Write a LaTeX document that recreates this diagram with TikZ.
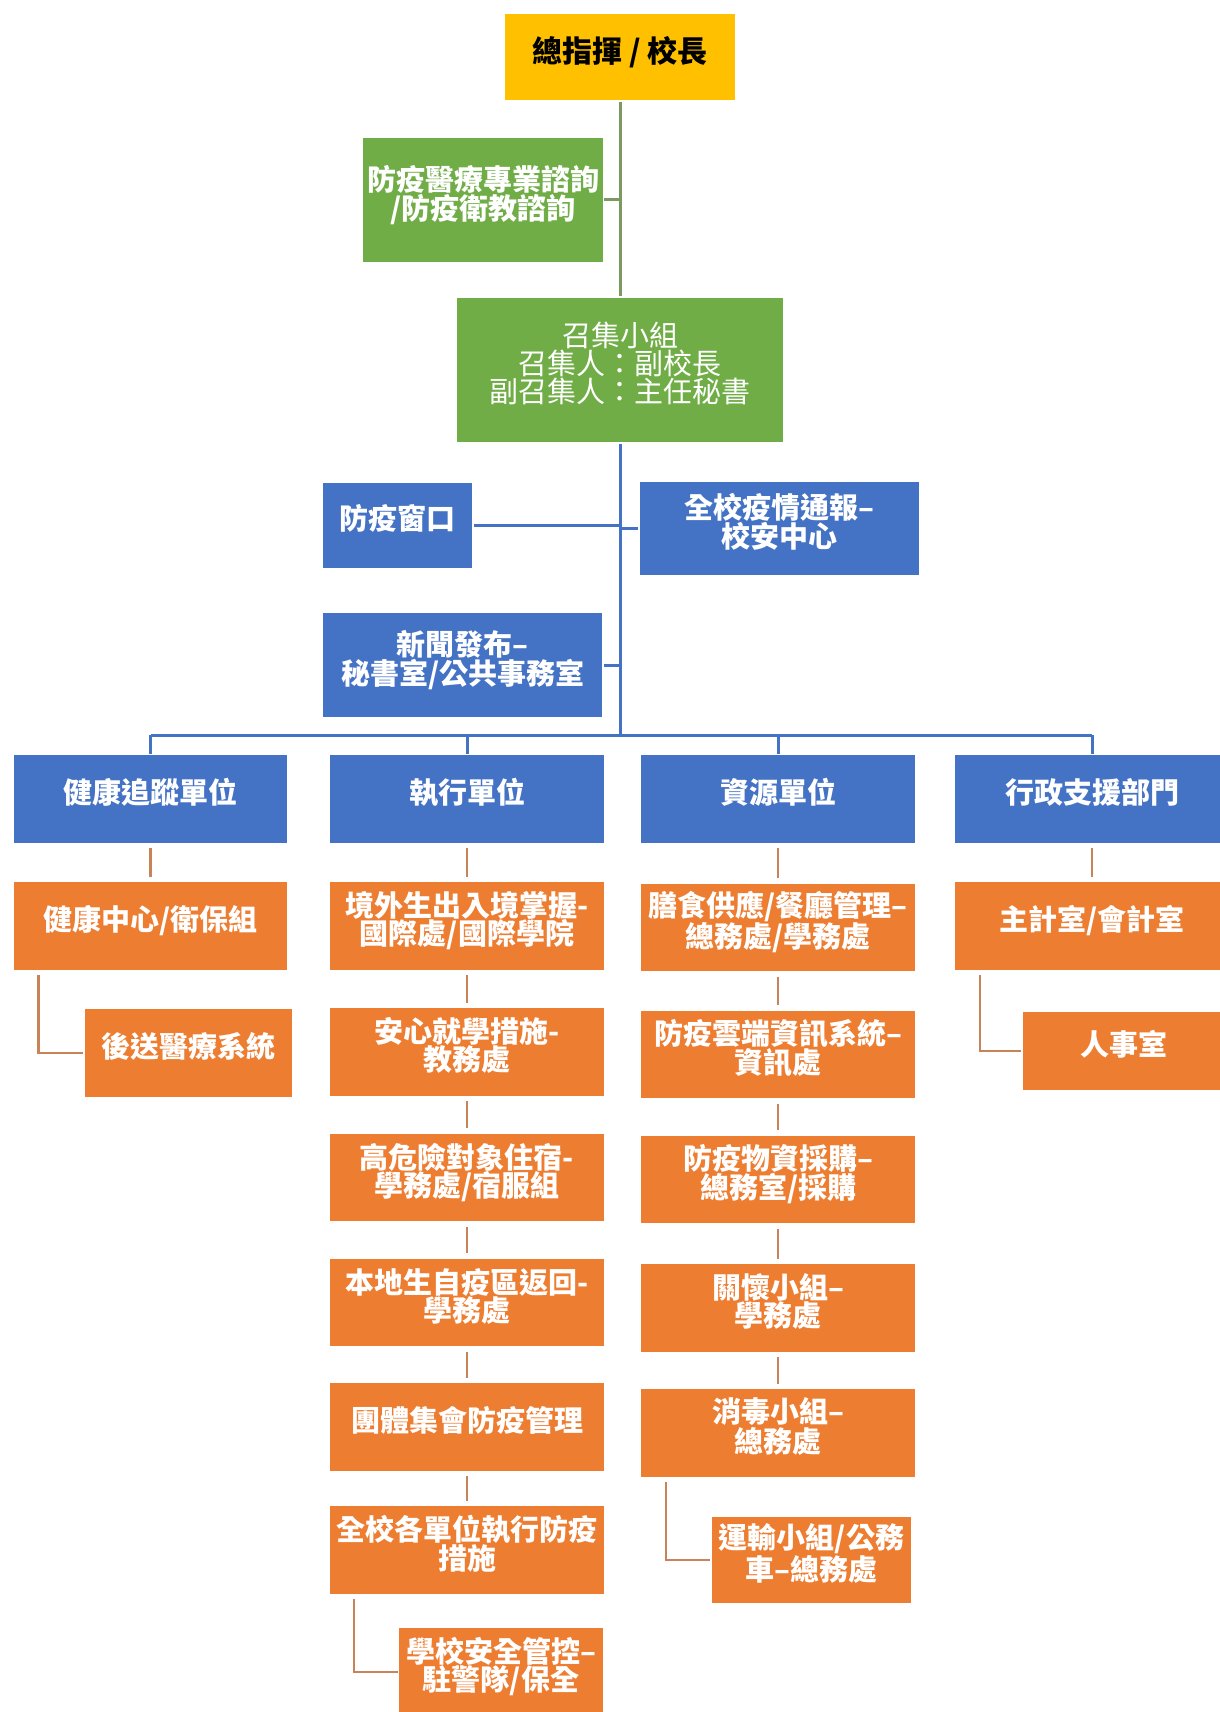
\documentclass[tikz,border=0pt]{standalone}
\usepackage{fontspec}
\newfontfamily\cjk{Noto Sans CJK TC}
\usetikzlibrary{positioning,calc}
\definecolor{chiefyellow}{HTML}{FFC000}
\definecolor{accgreen}{HTML}{70AD47}
\definecolor{accblue}{HTML}{4472C4}
\definecolor{accorange}{HTML}{ED7D31}
\definecolor{linegreen}{HTML}{7B9A62}
\definecolor{lineorange}{HTML}{C98359}

\begin{document}
\begin{tikzpicture}[x=1pt,y=-1pt]
	\tikzstyle{unit}=[draw=white, line width=1.5pt, rectangle, align=center, text=white, inner sep=2pt, font=\cjk\bfseries\fontsize{29}{28}\selectfont, execute at end node={\rule[-16pt]{0pt}{16pt}}];
	\tikzstyle{chief}=[unit, fill=chiefyellow, text=black, font=\cjk\bfseries\fontsize{30}{30}\selectfont];
	\tikzstyle{grn}=[unit, fill=accgreen];
	\tikzstyle{blu}=[unit, fill=accblue];
	\tikzstyle{org}=[unit, fill=accorange];
	\tikzstyle{col}=[minimum width=275pt, minimum height=89pt];
	\tikzstyle{gline}=[draw=linegreen, line width=3pt];
	\tikzstyle{bline}=[draw=accblue, line width=3pt];
	\tikzstyle{oline}=[draw=lineorange, line width=2.5pt];

	\fill[white] (0,0) rectangle (1219,1712);
	\useasboundingbox (0,0) rectangle (1219,1712);

	\node[chief, minimum width=231pt, minimum height=88pt] (chief) at (620,57) {總指揮 / 校長};
	\node[grn, minimum width=241pt, minimum height=126pt] (consult) at (483,200) {防疫醫療專業諮詢\\/防疫衛教諮詢};
	\node[grn, minimum width=328pt, minimum height=146pt, font=\cjk\fontsize{29}{28}\selectfont] (convene) at (620,370) {召集小組\\召集人：副校長\\副召集人：主任秘書};

	\node[blu, minimum width=151pt, minimum height=87pt] (window) at (397.6,525.4) {防疫窗口};
	\node[blu, minimum width=281pt, minimum height=94pt] (report) at (779.4,528.7) {全校疫情通報–\\校安中心};
	\node[blu, minimum width=281pt, minimum height=105pt] (press) at (462.6,665.2) {新聞發布–\\秘書室/公共事務室};

	\node[blu, col] (health) at (150.7,799) {健康追蹤單位};
	\node[blu, col] (exec) at (467,799) {執行單位};
	\node[blu, col] (res) at (778.2,799) {資源單位};
	\node[blu, col] (admin) at (1092,799) {行政支援部門};

	\node[org, col] (hcenter) at (150.7,926) {健康中心/衛保組};
	\node[org, minimum width=209pt, minimum height=90pt] (evac) at (188.4,1053) {後送醫療系統};

	\node[org, col] (ex1) at (467,926) {境外生出入境掌握-\\國際處/國際學院};
	\node[org, col] (ex2) at (467,1052) {安心就學措施-\\教務處};
	\node[org, col] (ex3) at (467,1177.5) {高危險對象住宿-\\學務處/宿服組};
	\node[org, col] (ex4) at (467,1302.5) {本地生自疫區返回-\\學務處};
	\node[org, col] (ex5) at (467,1427) {團體集會防疫管理};
	\node[org, col] (ex6) at (467,1550) {全校各單位執行防疫\\措施};
	\node[org, minimum width=205pt, minimum height=89pt] (guard) at (501,1672) {學校安全管控–\\駐警隊/保全};

	\node[org, col] (rs1) at (778.2,927.4) {膳食供應/餐廳管理–\\總務處/學務處};
	\node[org, col] (rs2) at (778.2,1054.6) {防疫雲端資訊系統–\\資訊處};
	\node[org, col] (rs3) at (778.2,1179.7) {防疫物資採購–\\總務室/採購};
	\node[org, col] (rs4) at (778.2,1308) {關懷小組–\\學務處};
	\node[org, col] (rs5) at (778.2,1433) {消毒小組–\\總務處};
	\node[org, minimum width=201pt, minimum height=87pt] (trans) at (811.5,1560) {運輸小組/公務\\車–總務處};

	\node[org, col] (acct) at (1092,926) {主計室/會計室};
	\node[org, minimum width=204pt, minimum height=79pt] (hr) at (1124,1051) {人事室};

	\draw[gline] (chief.south) -- (convene.north);
	\draw[gline] (consult.east) -- (consult.east -| chief.south);

	\coordinate (bus) at (620,735);
	\draw[bline] (convene.south) -- (convene.south |- bus);
	\draw[bline] (window.east) -- (window.east -| convene.south);
	\draw[bline] (report.west) -- (report.west -| convene.south);
	\draw[bline] (press.east) -- (press.east -| convene.south);
	\draw[bline] (bus -| health.north) -- (bus -| admin.north);
	\foreach \c in {health,exec,res,admin}
		\draw[bline] (bus -| \c.north) -- (\c.north);

	\foreach \a/\b in {health/hcenter, exec/ex1, ex1/ex2, ex2/ex3, ex3/ex4, ex4/ex5, ex5/ex6, res/rs1, rs1/rs2, rs2/rs3, rs3/rs4, rs4/rs5, admin/acct}
		\draw[oline, shorten >=4pt, shorten <=4pt] (\a) -- (\b);

	\draw[oline, shorten <=4pt] ([xshift=26pt]hcenter.south west) |- (evac.west);
	\draw[oline, shorten <=4pt] ([xshift=25pt]ex6.south west) |- (guard.west);
	\draw[oline, shorten <=4pt] ([xshift=26pt]rs5.south west) |- (trans.west);
	\draw[oline, shorten <=4pt] ([xshift=26pt]acct.south west) |- (hr.west);
\end{tikzpicture}
\end{document}
